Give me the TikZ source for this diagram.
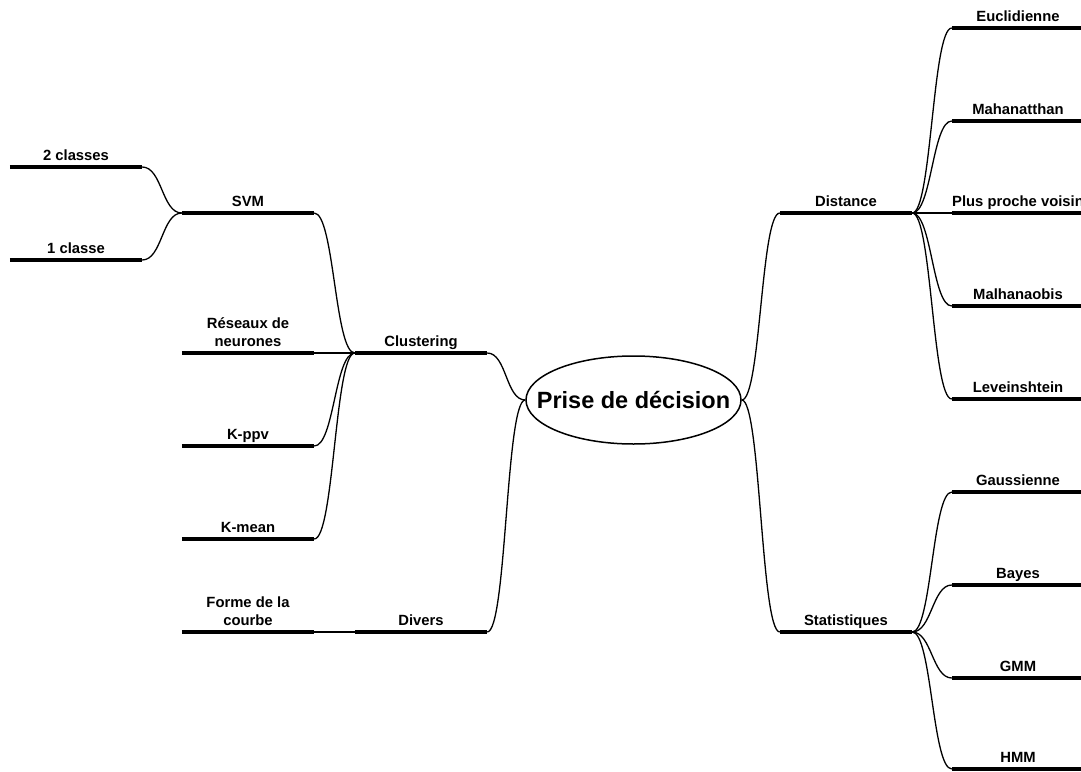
\documentclass[tikz,border=0pt]{standalone}
\usepackage{fontspec}
\setmainfont{Liberation Sans}
\usetikzlibrary{shapes.geometric}
\begin{document}
\begin{tikzpicture}[x=1pt,y=-1pt,
 topic/.style={minimum width=132pt, inner xsep=0pt, inner ysep=6.5pt, anchor=south, align=center, text depth=0pt, font=\fontsize{14.8}{17.5}\selectfont\bfseries},
 uline/.style={line width=4pt},
 conn/.style={line width=1.3pt},
 rootnode/.style={ellipse, draw, line width=1.5pt, minimum width=215pt, minimum height=88pt, inner sep=0pt, font=\fontsize{23.5}{28}\selectfont\bfseries}]
\useasboundingbox (0,0) rectangle (1081,771);
\clip (0,0) rectangle (1081,771);
\node[rootnode] (root) at (633.5,400) {\makebox[0pt]{Prise de décision}};
\node[topic] (c2) at (76,167) {2 classes};
\node[topic] (c1) at (76,260) {1 classe};
\node[topic] (svm) at (248,213) {SVM};
\node[topic] (res) at (248,353) {Réseaux de\\neurones};
\node[topic] (kppv) at (248,446) {K-ppv};
\node[topic] (kmean) at (248,539) {K-mean};
\node[topic] (forme) at (248,632) {Forme de la\\courbe};
\node[topic] (clu) at (421,353) {Clustering};
\node[topic] (div) at (421,632) {Divers};
\node[topic] (dist) at (846,213) {Distance};
\node[topic] (stat) at (846,632) {Statistiques};
\node[topic] (eucl) at (1018,28) {Euclidienne};
\node[topic] (manh) at (1018,121) {Mahanatthan};
\node[topic] (ppv) at (1018,213) {Plus proche voisin};
\node[topic] (malh) at (1018,306) {Malhanaobis};
\node[topic] (lev) at (1018,399) {Leveinshtein};
\node[topic] (gaus) at (1018,492) {Gaussienne};
\node[topic] (bay) at (1018,585) {Bayes};
\node[topic] (gmm) at (1018,678) {GMM};
\node[topic] (hmm) at (1018,769) {HMM};
\foreach \n in {c2,c1,svm,res,kppv,kmean,forme,clu,div,dist,stat,eucl,manh,ppv,malh,lev,gaus,bay,gmm,hmm}
  \draw[uline] (\n.south west) -- (\n.south east);
% left
\foreach \a/\b in {c2/svm,c1/svm,svm/clu,res/clu,kppv/clu,kmean/clu,forme/div}
  \draw[conn] (\a.south east) .. controls +(20,0) and +(-20,0) .. (\b.south west);
\draw[conn] (clu.south east) .. controls +(19.5,0) and +(-19.5,0) .. (root.west);
\draw[conn] (div.south east) .. controls +(19.5,0) and +(-19.5,0) .. (root.west);
% right
\draw[conn] (root.east) .. controls +(19,0) and +(-19,0) .. (dist.south west);
\draw[conn] (root.east) .. controls +(19,0) and +(-19,0) .. (stat.south west);
\foreach \a/\b in {dist/eucl,dist/manh,dist/ppv,dist/malh,dist/lev,stat/gaus,stat/bay,stat/gmm,stat/hmm}
  \draw[conn] (\a.south east) .. controls +(19.5,0) and +(-19.5,0) .. (\b.south west);
\end{tikzpicture}
\end{document}
